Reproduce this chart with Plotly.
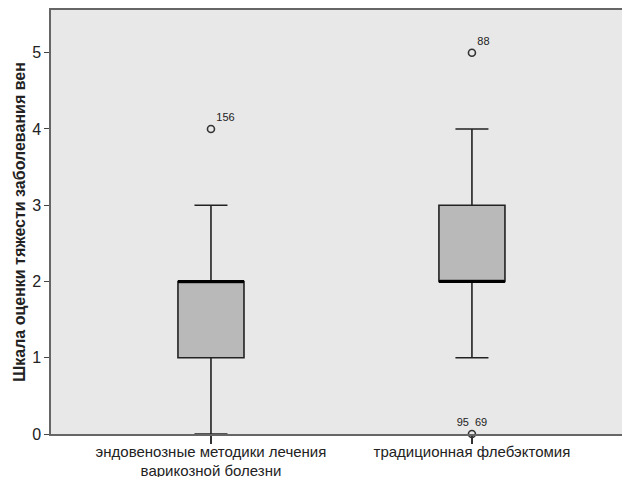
import plotly.graph_objects as go

categories = ["эндовенозные методики лечения<br>варикозной болезни", "традиционная флебэктомия"]
q1 = [1, 2]
median = [2, 2]
q3 = [2, 3]
lower_fence = [0, 1]
upper_fence = [3, 4]
# outliers: (category index, value, label)
outlier_cat = [0, 1, 1]
outlier_val = [4, 5, 0]
outlier_lbl = ["156", "88", "95  69"]
outlier_pos = ["top right", "top right", "top center"]
y_ticks = [0, 1, 2, 3, 4, 5]

BOX_W = 0.253

fig = go.Figure()
for i in range(len(categories)):
    fig.add_trace(go.Box(
        x=[i], q1=[q1[i]], median=[median[i]], q3=[q3[i]],
        lowerfence=[lower_fence[i]], upperfence=[upper_fence[i]],
        width=BOX_W, whiskerwidth=0.5, boxpoints=False,
        fillcolor="#b9b9b9", line=dict(color="#222222", width=1.6),
        showlegend=False, hoverinfo="skip"))
    fig.add_trace(go.Scatter(
        x=[i - BOX_W / 2, i + BOX_W / 2], y=[median[i], median[i]],
        mode="lines", line=dict(color="#000000", width=3.2),
        showlegend=False, hoverinfo="skip"))

fig.add_trace(go.Scatter(
    x=outlier_cat, y=outlier_val, mode="markers+text",
    text=outlier_lbl, textposition=outlier_pos,
    textfont=dict(family="Liberation Sans, Arial, sans-serif", size=11, color="#222"),
    marker=dict(symbol="circle-open", size=7, color="#333333", line=dict(width=1.6)),
    showlegend=False, hoverinfo="skip", cliponaxis=False))

fig.update_layout(
    width=622, height=477,
    margin=dict(l=51, r=0, t=10, b=43, autoexpand=False),
    paper_bgcolor="white", plot_bgcolor="#e8e8e8",
    font=dict(family="Liberation Sans, Arial, sans-serif", size=15, color="#222"),
    xaxis=dict(range=[-0.613, 1.575], tickvals=list(range(len(categories))),
               ticktext=categories, showgrid=False, zeroline=False,
               showline=True, linecolor="#666666", linewidth=1.5, mirror=True,
               ticks="outside", ticklen=8, tickcolor="#333333", tickwidth=1.5,
               ticklabelstandoff=-5, tickfont=dict(size=15)),
    yaxis=dict(range=[0, 5.56], tickvals=y_ticks, showgrid=False, zeroline=False,
               showline=True, linecolor="#666666", linewidth=1.5, mirror=True,
               ticks="outside", ticklen=5, tickcolor="#444444", tickwidth=1.2,
               tickfont=dict(size=16),
               title=dict(text="<b>Шкала оценки тяжести заболевания вен</b>",
                          font=dict(size=16), standoff=3)),
)

fig.write_html(
    "out.html",
    config={"displayModeBar": False},
    post_script="document.body.style.margin='0px';document.body.style.overflow='hidden';"
                "Plotly.relayout('{plot_id}', {width: 622, height: 477});",
)
